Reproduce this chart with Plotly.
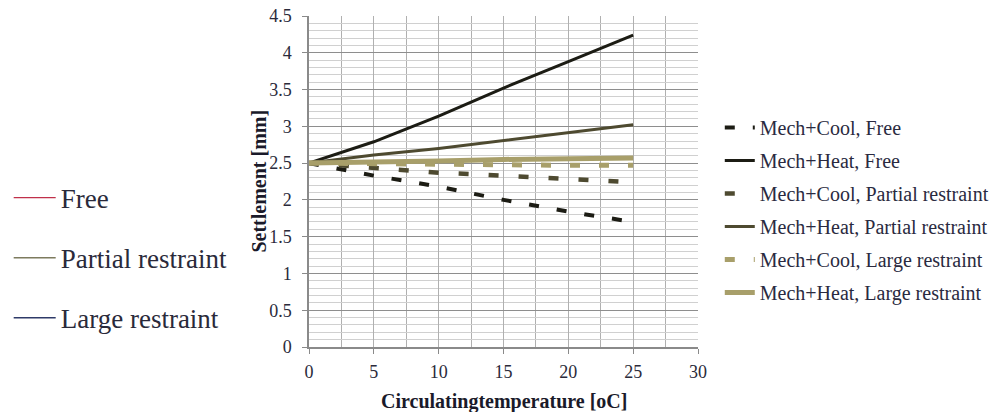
import plotly.graph_objects as go

temps = [0, 5, 10, 15, 20, 25]
cool_free = [2.5, 2.33, 2.18, 2.0, 1.84, 1.70]
heat_free = [2.5, 2.79, 3.14, 3.52, 3.88, 4.24]
cool_partial = [2.5, 2.43, 2.37, 2.33, 2.285, 2.24]
heat_partial = [2.5, 2.61, 2.70, 2.81, 2.91, 3.02]
cool_large = [2.5, 2.49, 2.48, 2.48, 2.47, 2.47]
heat_large = [2.5, 2.51, 2.53, 2.55, 2.56, 2.57]

series_names = ["Mech+Cool, Free", "Mech+Heat, Free",
                "Mech+Cool, Partial restraint", "Mech+Heat, Partial restraint",
                "Mech+Cool, Large restraint", "Mech+Heat, Large restraint"]
restraint_names = ["Free", "Partial restraint", "Large restraint"]

x_title = "Circulatingtemperature [oC]"
y_title = "Settlement [mm]"

C_FREE = "#1c1c14"
C_PART = "#4e4a30"
C_LARGE = "#a89f6a"

styles = [
    dict(color=C_FREE, width=4, dash="10px,18px"),
    dict(color=C_FREE, width=3),
    dict(color=C_PART, width=4.5, dash="10px,20px"),
    dict(color=C_PART, width=3),
    dict(color=C_LARGE, width=5, dash="10px,19px"),
    dict(color=C_LARGE, width=5),
]
values = [cool_free, heat_free, cool_partial, heat_partial, cool_large, heat_large]

SERIF = "Liberation Serif"

fig = go.Figure()
for i, (name, vals, st) in enumerate(zip(series_names, values, styles)):
    fig.add_trace(go.Scatter(x=temps, y=vals, mode="lines", name=name,
                             line=st, legendgroup=f"g{i}", legend="legend"))

left_colors = ["#c0304a", "#7d7b5e", "#2e3a68"]
for i, (nm, col) in enumerate(zip(restraint_names, left_colors)):
    fig.add_trace(go.Scatter(x=[None], y=[None], mode="lines", name=nm,
                             line=dict(color=col, width=1.4),
                             legendgroup=f"r{i}", legend="legend2"))

fig.update_layout(
    width=997, height=412,
    margin=dict(l=309, r=299, t=16, b=65, autoexpand=False),
    paper_bgcolor="white", plot_bgcolor="white",
    font=dict(family=SERIF, size=18, color="#2a2a3a"),
    showlegend=True,
    legend=dict(x=1.056, y=0.722, xanchor="left", yanchor="top",
                font=dict(family=SERIF, size=20, color="#2a2a40"),
                tracegroupgap=4, bgcolor="rgba(0,0,0,0)"),
    legend2=dict(x=-0.772, y=0.524, xanchor="left", yanchor="top",
                 font=dict(family=SERIF, size=27, color="#2a2a3a"),
                 itemwidth=42, tracegroupgap=22, bgcolor="rgba(0,0,0,0)"),
    xaxis=dict(range=[0, 30], dtick=5, tick0=0,
               showgrid=True, gridcolor="#b0b0b0", gridwidth=1,
               minor=dict(dtick=2.5, showgrid=True, gridcolor="#b0b0b0", gridwidth=1),
               showline=True, linecolor="#8a8a8a", linewidth=1.5,
               ticks="outside", ticklen=5, tickcolor="#8a8a8a",
               ticklabelstandoff=3,
               tickfont=dict(family=SERIF, size=18, color="#2a2a3a"),
               zeroline=False),
    yaxis=dict(range=[0, 4.5], dtick=0.5, tick0=0,
               showgrid=True, gridcolor="#8e8e8e", gridwidth=1.3,
               minor=dict(dtick=0.1, showgrid=True, gridcolor="#d0d0d0", gridwidth=1),
               showline=True, linecolor="#8a8a8a", linewidth=1.5,
               ticks="outside", ticklen=5, tickcolor="#8a8a8a",
               ticklabelstandoff=7,
               tickfont=dict(family=SERIF, size=18, color="#2a2a3a"),
               zeroline=False),
    annotations=[
        dict(text=f"<b>{x_title}</b>", xref="paper", yref="paper",
             x=0.5, y=-0.165, xanchor="center", yanchor="middle", showarrow=False,
             font=dict(family=SERIF, size=20, color="#1a1a2a")),
        dict(text=f"<b>{y_title}</b>", xref="paper", yref="paper",
             x=-0.131, y=0.5, xanchor="center", yanchor="middle", showarrow=False,
             textangle=-90, font=dict(family=SERIF, size=20, color="#1a1a2a")),
    ],
)

fig.write_html("out.html", config={"displayModeBar": False},
               post_script="document.body.style.margin='0px';")
